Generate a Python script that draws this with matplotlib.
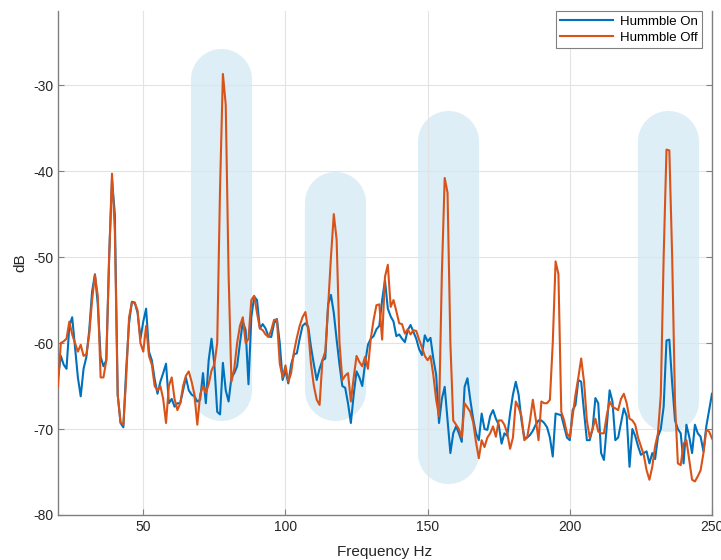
import numpy as np
import matplotlib
matplotlib.use("Agg")
import matplotlib.pyplot as plt

plt.rcParams['font.family'] = ['Liberation Sans', 'DejaVu Sans']
plt.rcParams['axes.unicode_minus'] = False

# spectrum, 1 Hz bins from 20 to 250 Hz
freq = np.arange(20, 251)

hummble_on = [
    -64.0, -61.5, -62.5, -63.0, -58.0, -57.0, -60.5, -64.0, -66.2, -63.0,   # 20-29
    -61.6, -58.5, -54.0, -52.0, -55.5, -61.6, -62.7, -62.0, -50.0, -41.0,   # 30-39
    -45.0, -66.0, -69.3, -69.8, -63.0, -57.7, -55.2, -55.3, -56.5, -59.5,   # 40-49
    -57.5, -56.0, -61.0, -62.0, -64.2, -65.9, -64.5, -63.5, -62.4, -67.0,   # 50-59
    -66.5, -67.4, -67.0, -67.0, -65.5, -64.0, -65.5, -66.0, -66.2, -66.8,   # 60-69
    -66.6, -63.5, -67.0, -62.0, -59.5, -62.5, -68.0, -68.3, -62.3, -65.5,   # 70-79
    -66.8, -64.0, -63.5, -62.7, -60.0, -57.5, -58.5, -64.8, -57.0, -54.6,   # 80-89
    -55.0, -58.3, -57.8, -58.3, -59.2, -59.3, -57.7, -57.2, -60.0, -64.3,   # 90-99
    -63.2, -64.7, -62.5, -61.3, -61.2, -59.5, -58.0, -57.7, -58.1, -60.5,   # 100-109
    -62.5, -64.3, -63.0, -62.0, -61.8, -55.5, -54.4, -56.5, -59.6, -62.5,   # 110-119
    -65.0, -65.2, -67.0, -69.3, -66.0, -63.3, -64.0, -65.0, -62.4, -60.2,   # 120-129
    -59.5, -59.2, -58.4, -58.0, -55.0, -52.7, -56.0, -56.9, -57.5, -59.2,   # 130-139
    -59.0, -59.5, -59.9, -58.5, -57.9, -58.7, -59.5, -60.7, -61.4, -59.1,   # 140-149
    -59.8, -59.4, -61.8, -63.7, -69.3, -66.5, -65.1, -69.0, -72.8, -70.5,   # 150-159
    -69.7, -70.5, -71.5, -65.1, -64.1, -66.6, -68.8, -70.5, -71.3, -68.2,   # 160-169
    -70.0, -70.1, -68.5, -67.8, -68.8, -69.5, -71.7, -70.5, -70.8, -68.2,   # 170-179
    -66.0, -64.5, -66.0, -69.0, -71.0, -71.0, -70.7, -70.2, -69.5, -69.0,   # 180-189
    -69.0, -69.3, -69.8, -71.0, -73.2, -68.2, -68.3, -68.4, -69.7, -71.0,   # 190-199
    -71.3, -67.8, -67.2, -64.3, -64.5, -68.0, -71.3, -71.3, -70.0, -66.4,   # 200-209
    -67.0, -72.8, -73.6, -69.7, -65.5, -66.8, -71.3, -71.0, -69.3, -67.6,   # 210-219
    -68.5, -74.4, -70.0, -70.8, -72.0, -73.0, -72.8, -72.6, -74.0, -72.8,   # 220-229
    -73.5, -70.9, -70.0, -67.4, -59.7, -59.6, -64.7, -69.0, -70.0, -70.5,   # 230-239
    -74.0, -69.5, -70.9, -72.8, -69.5, -70.5, -70.9, -72.6, -69.7, -67.8,   # 240-249
    -65.9,                                                                  # 250
]

hummble_off = [
    -65.1, -60.0, -59.8, -59.5, -57.5, -59.0, -60.0, -61.0, -60.2, -61.5,   # 20-29
    -61.3, -59.0, -55.0, -52.1, -54.5, -64.0, -64.0, -62.0, -50.0, -40.3,   # 30-39
    -47.0, -66.0, -69.2, -69.5, -64.0, -57.0, -55.3, -55.3, -56.2, -60.0,   # 40-49
    -61.0, -58.0, -61.5, -62.5, -65.0, -65.5, -65.0, -66.5, -69.3, -65.0,   # 50-59
    -64.0, -66.5, -67.8, -67.0, -65.0, -63.8, -63.3, -64.5, -66.0, -69.5,   # 60-69
    -66.0, -65.0, -65.8, -64.8, -63.2, -62.5, -60.0, -42.0, -28.7, -32.3,   # 70-79
    -52.0, -64.5, -63.0, -60.0, -58.0, -57.0, -60.0, -59.5, -55.0, -54.5,   # 80-89
    -56.5, -58.3, -58.5, -59.0, -59.3, -58.5, -57.3, -57.3, -62.4, -64.0,   # 90-99
    -62.6, -64.5, -63.5, -61.0, -59.4, -58.0, -57.0, -56.4, -58.5, -62.5,   # 100-109
    -65.0, -66.6, -67.2, -62.0, -61.0, -55.8, -50.0, -45.0, -48.0, -60.0,   # 110-119
    -64.3, -63.8, -63.5, -66.8, -64.0, -61.5, -62.2, -62.7, -61.6, -63.0,   # 120-129
    -59.5, -57.3, -55.6, -55.5, -59.6, -52.3, -50.9, -55.8, -55.0, -56.3,   # 130-139
    -57.7, -57.8, -58.9, -58.4, -59.0, -58.5, -58.6, -59.6, -60.5, -61.5,   # 140-149
    -62.0, -61.5, -63.7, -66.6, -68.5, -52.0, -40.8, -42.5, -60.0, -69.0,   # 150-159
    -69.5, -70.0, -71.0, -67.0, -67.5, -68.0, -69.2, -71.5, -73.4, -71.3,   # 160-169
    -72.1, -71.0, -70.5, -69.7, -70.9, -69.0, -69.0, -69.5, -70.5, -72.3,   # 170-179
    -71.0, -66.8, -67.5, -68.5, -71.3, -71.0, -69.0, -66.6, -68.8, -71.3,   # 180-189
    -66.8, -67.0, -67.0, -66.6, -60.0, -50.5, -52.0, -68.0, -69.0, -70.5,   # 190-199
    -71.0, -68.5, -66.0, -64.0, -61.8, -64.5, -69.0, -71.0, -70.0, -68.8,   # 200-209
    -70.3, -70.5, -70.5, -68.4, -66.8, -67.4, -67.6, -67.8, -66.5, -65.9,   # 210-219
    -67.0, -68.8, -69.0, -69.5, -71.0, -72.0, -73.0, -74.8, -75.9, -74.4,   # 220-229
    -72.0, -70.5, -66.0, -50.0, -37.5, -37.6, -50.0, -67.0, -74.0, -74.2,   # 230-239
    -71.7, -71.3, -73.6, -75.9, -76.1, -75.5, -74.8, -72.8, -70.1, -70.3,   # 240-249
    -71.1,                                                                  # 250
]

# highlighted hum harmonics: centre frequency and dB extent of each band
band_centre = [77.5, 117.6, 157.2, 234.6]
band_low = [-69.0, -69.0, -76.3, -70.3]
band_high = [-25.7, -40.0, -33.0, -33.0]
band_width_hz = 21.5

x_ticks = [50, 100, 150, 200, 250]
y_ticks = [-80, -70, -60, -50, -40, -30]

dpi = 100
fig = plt.figure(figsize=(7.21, 5.60), dpi=dpi)
ax = fig.add_axes([0.0804, 0.0804, 0.9071, 0.8996])
ax.set_xlim(20, 250)
ax.set_ylim(-80, -21.4)

# rounded bands: thick lines with round caps, inset by the cap radius
x0 = ax.transData.transform((20, -80))
x1 = ax.transData.transform((20 + band_width_hz, -80 + 1))
width_px = x1[0] - x0[0]
px_per_db = x1[1] - x0[1]
cap_db = width_px / 2 / px_per_db
for c, lo, hi in zip(band_centre, band_low, band_high):
    ax.plot([c, c], [lo + cap_db, hi - cap_db], color='#ddeef7',
            linewidth=width_px * 72 / dpi, solid_capstyle='round', zorder=0.5)

ax.plot(freq, hummble_on, color='#0072BD', linewidth=1.5, label='Hummble On', zorder=3)
ax.plot(freq, hummble_off, color='#D95319', linewidth=1.5, label='Hummble Off', zorder=3)

ax.set_xticks(x_ticks)
ax.set_yticks(y_ticks)
ax.grid(True, color='#e3e3e3', linewidth=0.8, zorder=1)
ax.tick_params(direction='in', length=4, colors='#808080', labelcolor='#262626',
               labelsize=10, right=True)
for side in ['left', 'right', 'bottom']:
    ax.spines[side].set_color('#808080')
    ax.spines[side].set_linewidth(1.0)
ax.spines['top'].set_visible(False)

ax.set_xlabel('Frequency Hz', fontsize=11, color='#262626', labelpad=8)
ax.set_ylabel('dB', fontsize=11, color='#262626', labelpad=4)

leg = ax.legend(loc='upper right', bbox_to_anchor=(0.985, 1.0), borderaxespad=0,
                fontsize=9.5, fancybox=False, framealpha=1, edgecolor='#808080',
                handlelength=4.0, borderpad=0.35, labelspacing=0.25, handletextpad=0.5)
leg.get_frame().set_linewidth(0.8)

fig.savefig('out.png', dpi=dpi)
